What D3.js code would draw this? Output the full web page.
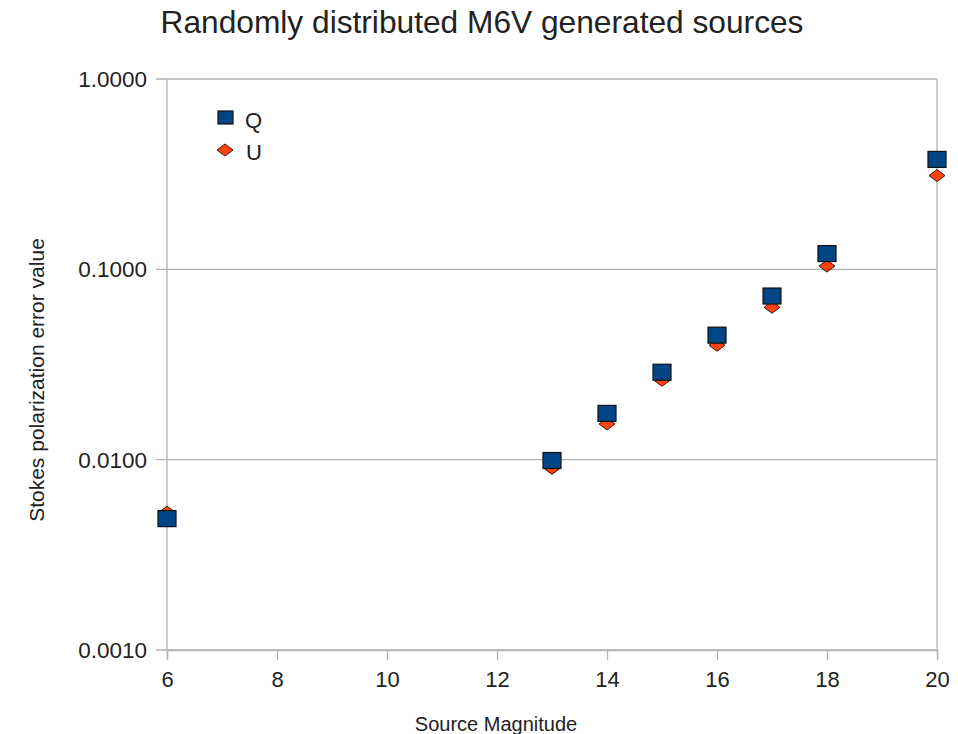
<!DOCTYPE html>
<html>
<head>
<meta charset="utf-8">
<script src="https://cdn.jsdelivr.net/npm/d3@7"></script>
<style>
  body { margin: 0; background: #fff; }
  text { font-family: "Liberation Sans", Arial, sans-serif; fill: #222; }
</style>
</head>
<body>
<script>
// data
var magnitudes = [6, 13, 14, 15, 16, 17, 18, 20];
var qValues = [0.0049, 0.0099, 0.0175, 0.0288, 0.0451, 0.0724, 0.121, 0.378];
var uValues = [0.0053, 0.0090, 0.0154, 0.0261, 0.0399, 0.0632, 0.104, 0.311];
var xTicks = [6, 8, 10, 12, 14, 16, 18, 20];
var yTicks = [0.001, 0.01, 0.1, 1];

var width = 958, height = 734;
var margin = {top: 79, right: 21, bottom: 84, left: 167};

var svg = d3.select("body").append("svg")
    .attr("width", width)
    .attr("height", height);

var x = d3.scaleLinear().domain([6, 20]).range([margin.left, width - margin.right]);
var y = d3.scaleLog().domain([0.001, 1]).range([height - margin.bottom, margin.top]);

// horizontal grid
svg.append("g")
  .selectAll("line")
  .data(yTicks)
  .enter().append("line")
  .attr("x1", margin.left - 11)
  .attr("x2", width - margin.right)
  .attr("y1", function(d) { return y(d); })
  .attr("y2", function(d) { return y(d); })
  .attr("stroke", "#b3b3b3")
  .attr("stroke-width", 1.3);

// left and right frame lines
svg.append("line")
  .attr("x1", margin.left).attr("x2", margin.left)
  .attr("y1", margin.top).attr("y2", height - margin.bottom)
  .attr("stroke", "#b3b3b3").attr("stroke-width", 1.3);
svg.append("line")
  .attr("x1", width - margin.right).attr("x2", width - margin.right)
  .attr("y1", margin.top).attr("y2", height - margin.bottom)
  .attr("stroke", "#b3b3b3").attr("stroke-width", 1.3);

// x axis
var xAxis = svg.append("g")
  .attr("transform", "translate(0," + (height - margin.bottom) + ")")
  .call(d3.axisBottom(x).tickValues(xTicks).tickSize(10).tickPadding(11).tickFormat(d3.format("d")));
xAxis.select(".domain").attr("stroke", "#b3b3b3").attr("stroke-width", 1.3);
xAxis.selectAll(".tick line").attr("stroke", "#b3b3b3").attr("stroke-width", 1.3);
xAxis.selectAll(".tick text").attr("font-size", 22).attr("font-family", "Liberation Sans, Arial, sans-serif").attr("fill", "#222");

// y labels
svg.append("g")
  .selectAll("text")
  .data(yTicks)
  .enter().append("text")
  .attr("x", margin.left - 20)
  .attr("y", function(d) { return y(d); })
  .attr("dy", "0.36em")
  .attr("text-anchor", "end")
  .attr("font-size", 22.5)
  .text(function(d) { return d3.format(".4f")(d); });

// U series, diamonds (drawn first, under squares)
svg.append("g")
  .selectAll("path")
  .data(magnitudes)
  .enter().append("path")
  .attr("d", "M0,-6L8,0L0,6L-8,0Z")
  .attr("transform", function(d, i) { return "translate(" + x(d) + "," + y(uValues[i]) + ")"; })
  .attr("fill", "#ff420e")
  .attr("stroke", "#3a1a10")
  .attr("stroke-width", 1);

// Q series, squares
svg.append("g")
  .selectAll("rect")
  .data(magnitudes)
  .enter().append("rect")
  .attr("x", function(d) { return x(d) - 9; })
  .attr("y", function(d, i) { return y(qValues[i]) - 8; })
  .attr("width", 18)
  .attr("height", 16)
  .attr("fill", "#004586")
  .attr("stroke", "#111")
  .attr("stroke-width", 1.2);

// legend
svg.append("rect")
  .attr("x", 218).attr("y", 111).attr("width", 15).attr("height", 13)
  .attr("fill", "#004586").attr("stroke", "#111").attr("stroke-width", 1.2);
svg.append("text").attr("x", 245).attr("y", 128).attr("font-size", 22).text("Q");
svg.append("path")
  .attr("d", "M0,-6L8,0L0,6L-8,0Z")
  .attr("transform", "translate(225,150)")
  .attr("fill", "#ff420e").attr("stroke", "#3a1a10").attr("stroke-width", 1);
svg.append("text").attr("x", 246).attr("y", 160).attr("font-size", 22).text("U");

// titles
svg.append("text")
  .attr("x", 482).attr("y", 33)
  .attr("text-anchor", "middle")
  .attr("font-size", 31.7)
  .text("Randomly distributed M6V generated sources");

svg.append("text")
  .attr("x", 496).attr("y", 731)
  .attr("text-anchor", "middle")
  .attr("font-size", 20)
  .text("Source Magnitude");

svg.append("text")
  .attr("transform", "translate(44,380) rotate(-90)")
  .attr("text-anchor", "middle")
  .attr("font-size", 21)
  .text("Stokes polarization error value");
</script>
</body>
</html>
